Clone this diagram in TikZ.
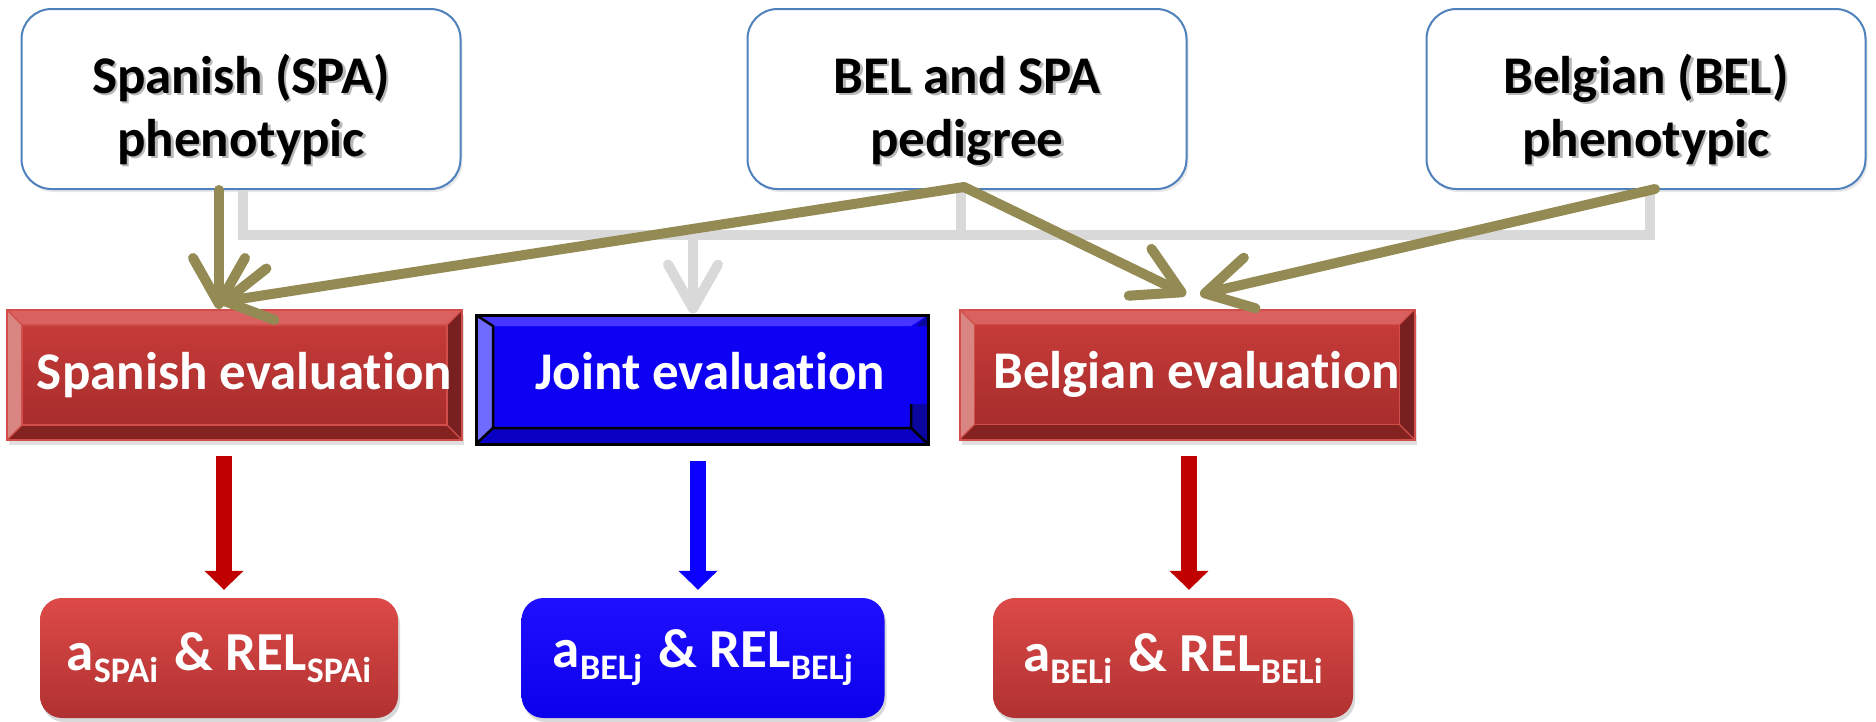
\documentclass[tikz,border=0pt]{standalone}
\usepackage{fontspec}
\setmainfont{Carlito}[Ligatures=NoCommon]
\usetikzlibrary{arrows.meta,shadows,calc}
\definecolor{olv}{HTML}{948A54}
\definecolor{gry}{HTML}{D9D9D9}
\definecolor{bbord}{HTML}{4F81BD}
\definecolor{rface1}{HTML}{CA3D3B}
\definecolor{rface2}{HTML}{A32B2A}
\definecolor{rtop}{HTML}{D96260}
\definecolor{rleft}{HTML}{D98683}
\definecolor{rright}{HTML}{782020}
\definecolor{rbot}{HTML}{84221F}
\definecolor{rline}{HTML}{D24E4B}
\definecolor{bface}{HTML}{0E00F2}
\definecolor{btop}{HTML}{4636FF}
\definecolor{bleft}{HTML}{6F6BFF}
\definecolor{bright}{HTML}{0A06A0}
\definecolor{bbot}{HTML}{0A00C4}
\definecolor{darr}{HTML}{C00000}
\definecolor{barr}{HTML}{0C00FF}
\definecolor{res1}{HTML}{DC4A47}
\definecolor{res2}{HTML}{B03131}
\definecolor{bres1}{HTML}{1F10FF}
\definecolor{bres2}{HTML}{0C00EA}
\newcommand\shtx[1]{\leavevmode\rlap{\hspace{2.5pt}\raisebox{-2.5pt}[0pt][0pt]{\textcolor{black!28}{#1}}}#1}
\newcommand\subtx[1]{\raisebox{-12pt}{\fontsize{36}{36}\selectfont #1}}
\tikzset{
  bigfont/.style={font=\bfseries\fontsize{53}{63}\selectfont},
  resfont/.style={font=\bfseries\fontsize{55}{60}\selectfont},
  srcbox/.style={draw=bbord, line width=2pt, fill=white, rounded corners=30pt,
    minimum width=439pt, minimum height=180pt, align=center, inner sep=0pt, bigfont,
    drop shadow={opacity=0.18, shadow xshift=2pt, shadow yshift=-3pt}},
  evred/.style={rectangle, draw=rline, line width=2pt, top color=rface1, bottom color=rface2,
    minimum width=455pt, minimum height=130pt, inner sep=0pt, text=white, bigfont,
    drop shadow={opacity=0.25, shadow xshift=2pt, shadow yshift=-5pt},
    path picture={
      \coordinate (pNW) at (path picture bounding box.north west);
      \coordinate (pNE) at (path picture bounding box.north east);
      \coordinate (pSW) at (path picture bounding box.south west);
      \coordinate (pSE) at (path picture bounding box.south east);
      \fill[rtop] (pNW) -- (pNE) -- ([shift={(-15pt,-15pt)}]pNE) -- ([shift={(15pt,-15pt)}]pNW) -- cycle;
      \fill[rbot] (pSW) -- (pSE) -- ([shift={(-15pt,15pt)}]pSE) -- ([shift={(15pt,15pt)}]pSW) -- cycle;
      \fill[rleft] (pNW) -- (pSW) -- ([shift={(15pt,15pt)}]pSW) -- ([shift={(15pt,-15pt)}]pNW) -- cycle;
      \fill[rright] (pNE) -- (pSE) -- ([shift={(-15pt,15pt)}]pSE) -- ([shift={(-15pt,-15pt)}]pNE) -- cycle;
      \draw[rline, line width=1.2pt] ([shift={(15pt,15pt)}]pSW) rectangle ([shift={(-15pt,-15pt)}]pNE);
      \draw[rline, line width=1.2pt] (pSW) -- ([shift={(15pt,15pt)}]pSW) (pNW) -- ([shift={(15pt,-15pt)}]pNW)
        (pSE) -- ([shift={(-15pt,15pt)}]pSE) (pNE) -- ([shift={(-15pt,-15pt)}]pNE);
    }},
  evblue/.style={rectangle, draw=black, line width=3pt, fill=bface,
    minimum width=452pt, minimum height=129pt, inner sep=0pt, text=white, bigfont,
    path picture={
      \coordinate (pNW) at (path picture bounding box.north west);
      \coordinate (pNE) at (path picture bounding box.north east);
      \coordinate (pSW) at (path picture bounding box.south west);
      \coordinate (pSE) at (path picture bounding box.south east);
      \fill[btop] (pNW) -- (pNE) -- ([shift={(-17pt,-11pt)}]pNE) -- ([shift={(17pt,-11pt)}]pNW) -- cycle;
      \fill[bright] (pNE) -- ([shift={(0pt,-11pt)}]pNE) -- ([shift={(-12pt,-11pt)}]pNE) -- cycle;
      \fill[bbot] (pSW) -- (pSE) -- ([shift={(-17pt,16pt)}]pSE) -- ([shift={(17pt,16pt)}]pSW) -- cycle;
      \fill[bleft] (pNW) -- (pSW) -- ([shift={(17pt,16pt)}]pSW) -- ([shift={(17pt,-11pt)}]pNW) -- cycle;
      \fill[bright] (pSE) -- ([shift={(0pt,40pt)}]pSE) -- ([shift={(-17pt,40pt)}]pSE) -- ([shift={(-17pt,16pt)}]pSE) -- cycle;
      \draw[black, line width=2.5pt] (pNW) -- ([shift={(17pt,-11pt)}]pNW) -- ([shift={(17pt,16pt)}]pSW)
        -- ([shift={(-17pt,16pt)}]pSE) -- (pSE);
      \draw[black, line width=2.5pt] (pSW) -- ([shift={(17pt,16pt)}]pSW)
        ([shift={(-17pt,16pt)}]pSE) -- ([shift={(-17pt,40pt)}]pSE);
    }},
  resred/.style={rectangle, rounded corners=22pt, top color=res1, bottom color=res2,
    minimum height=120pt, inner sep=0pt, text=white, resfont,
    drop shadow={opacity=0.3, shadow xshift=2pt, shadow yshift=-4pt}},
  resblue/.style={rectangle, rounded corners=22pt, top color=bres1, bottom color=bres2,
    minimum height=120pt, inner sep=0pt, text=white, resfont,
    drop shadow={opacity=0.3, shadow xshift=2pt, shadow yshift=-4pt}},
  blockarr/.style={line width=16.6pt, -{Triangle[width=38pt,length=19pt]}, shorten <=15pt, shorten >=8pt},
  olvarr/.style={draw=olv, line width=10pt, line cap=round, -{Straight Barb[length=46pt,width=52pt,round]}},
  grayline/.style={draw=gry, line width=10pt},
  grayarr/.style={draw=gry, line width=10pt, -{Straight Barb[length=44pt,width=50pt,round]}},
}
\begin{document}
\begin{tikzpicture}[x=1pt,y=-1pt]
\useasboundingbox[fill=white] (0,0) rectangle (1876,721);
% top sources
\node[srcbox] (spa) at (241,99) {\rule{0pt}{60pt}\shtx{Spanish (SPA)}\\\shtx{phenotypic}};
\node[srcbox] (ped) at (967,99) {\rule{0pt}{60pt}\shtx{BEL and SPA}\\\shtx{pedigree}};
\node[srcbox] (bel) at (1646,99) {\rule{0pt}{60pt}\shtx{Belgian (BEL)}\\\shtx{phenotypic}};
% evaluations
\node[evred] (spaev) at (234.5,375) {\hspace*{20pt}Spanish evaluation};
\node[evblue] (joint) at (702,379.5) {\raisebox{8pt}[\height][\depth]{\hspace*{16pt}Joint evaluation}};
\node[evred] (belev) at (1187,374.5) {\hspace*{19pt}Belgian evaluation};
% results
\node[resred, minimum width=358pt] (rspa) at (219,658) {a\subtx{SPAi}\hspace{4pt} \& REL\subtx{SPAi}};
\node[resblue, minimum width=363pt] (rjoint) at (703,658) {a\subtx{BELj}\hspace{4pt} \& REL\subtx{BELj}};
\node[resred, minimum width=360pt] (rbel) at (1173,658) {a\subtx{BELi}\hspace{4pt} \& REL\subtx{BELi}};
% gray connector
\coordinate (gL) at (243,235);
\coordinate (gR) at (1650,235);
\coordinate (gP) at (961,235);
\coordinate (gJ) at (693,235);
\draw[grayline] ([xshift=2pt]spa.south) -- (gL) -- (gR) -- (gR |- bel.south);
\draw[grayline] ([xshift=-6pt]ped.south) -- (gP);
\draw[grayarr] (gJ) -- (gJ |- joint.north);
% olive arrows
\draw[olvarr] ([xshift=-22pt]spa.south) -- ([xshift=-22pt]spa.south |- spaev.north);
\draw[olvarr] ([xshift=-3pt,yshift=3pt]ped.south) -- ([xshift=-14.5pt,yshift=7pt]spaev.north);
\draw[olvarr] ([xshift=-3pt,yshift=3pt]ped.south) -- ([xshift=-1pt,yshift=14pt]belev.north);
\draw[olvarr] ([xshift=9pt,yshift=1pt]bel.south) -- ([xshift=13pt,yshift=14pt]belev.north);
% down block arrows
\draw[blockarr, darr] ([xshift=-10.5pt]spaev.south) -- ([xshift=-10.5pt]spaev.south |- rspa.north);
\draw[blockarr, barr] ([xshift=-4pt]joint.south) -- ([xshift=-4pt]joint.south |- rjoint.north);
\draw[blockarr, darr] ([xshift=2pt]belev.south) -- ([xshift=2pt]belev.south |- rbel.north);
\end{tikzpicture}
\end{document}
